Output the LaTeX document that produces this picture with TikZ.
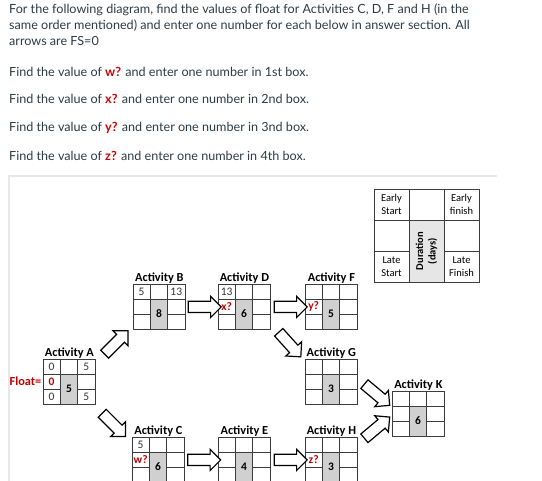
\documentclass[tikz,border=0pt]{standalone}
\usepackage{fontspec}
\setmainfont{Carlito}
\newfontfamily\latofont{Lato}
\usetikzlibrary{calc, shapes.arrows, positioning}
\definecolor{AnswerRed}{RGB}{204, 0, 0}
\definecolor{FloatRed}{RGB}{192, 0, 0}
\definecolor{DurGray}{RGB}{208, 208, 208}
\definecolor{KeyGray}{RGB}{230, 230, 230}
\definecolor{GridLine}{RGB}{60, 60, 60}
\definecolor{FrameGray}{RGB}{232, 232, 232}
\definecolor{TextGray}{RGB}{45, 59, 69}

% cell size of an activity grid
\newcommand{\cw}{17.3}
\newcommand{\ch}{15}

% empty grid: name, top left corner, fill of the duration cell
\newcommand{\cellgrid}[3]{%
  \begin{scope}[shift={(#2)}]
    \fill[#3] (\cw,\ch) rectangle (2*\cw,3*\ch);
    \draw[gridline] (0,\ch) -- (3*\cw,\ch)
      (0,2*\ch) -- (\cw,2*\ch) (2*\cw,2*\ch) -- (3*\cw,2*\ch)
      (\cw,0) -- (\cw,3*\ch) (2*\cw,0) -- (2*\cw,3*\ch);
  \end{scope}
  \node[gridbox, minimum width={3*\cw*1pt}, minimum height={3*\ch*1pt}, anchor=north west] (#1) at (#2) {};
}

% activity: name, corner, title, ES, EF, float, LS, LF, duration
\newcommand{\activity}[9]{%
  \cellgrid{#1}{#2}{DurGray}
  \node[acttitle, above=0pt of #1] (#1-t) {#3};
  \node[cellnum] (#1-es) at ($(#1.north west)+(0.5*\cw,0.5*\ch)$) {#4};
  \node[cellnum] (#1-ef) at ($(#1.north west)+(2.5*\cw,0.5*\ch)$) {#5};
  \node[floatnum] (#1-fl) at ($(#1.north west)+(0.5*\cw,1.5*\ch)$) {#6};
  \node[cellnum] (#1-ls) at ($(#1.north west)+(0.5*\cw,2.5*\ch)$) {#7};
  \node[cellnum] (#1-lf) at ($(#1.north west)+(2.5*\cw,2.5*\ch)$) {#8};
  \node[durnum] (#1-du) at ($(#1.north west)+(1.5*\cw,2*\ch)$) {#9};
}

\begin{document}
\begin{tikzpicture}[x=1pt, y=-1pt,
    qtext/.style={font=\latofont\fontsize{12.6}{16}\selectfont, text=TextGray, inner sep=0pt, align=left},
    gridline/.style={draw=GridLine, line width=0.9pt},
    gridbox/.style={draw=GridLine, line width=0.9pt, inner sep=0pt},
    acttitle/.style={font=\fontsize{12.3}{13}\selectfont\bfseries, inner sep=0.5pt},
    cellnum/.style={font=\fontsize{11.5}{12}\selectfont, text=black!80, inner sep=0pt},
    floatnum/.style={cellnum, font=\fontsize{11.5}{12}\selectfont\bfseries, text=FloatRed},
    durnum/.style={cellnum, font=\fontsize{11.5}{12}\selectfont\bfseries, text=black},
    keytext/.style={font=\fontsize{10.5}{12.5}\selectfont, align=center, inner sep=0pt},
    blockarrow/.style={single arrow, draw=black, fill=white, line width=1.2pt,
      minimum height=33pt, inner xsep=0pt, inner ysep=5pt, single arrow head extend=5pt}]
  \useasboundingbox (0,0) rectangle (542,481);

  % question text
  \node[qtext, anchor=north west] (q0) at (9,4)
    {For the following diagram, find the values of float for Activities C, D, F and H (in the\\
     same order mentioned) and enter one number for each below in answer section. All\\
     arrows are FS=0};
  \node[qtext, anchor=west] (q1) at (9,72) {Find the value of \textcolor{AnswerRed}{\bfseries w?} and enter one number in 1st box.};
  \node[qtext, anchor=west] (q2) at (9,99) {Find the value of \textcolor{AnswerRed}{\bfseries x?} and enter one number in 2nd box.};
  \node[qtext, anchor=west] (q3) at (9,128) {Find the value of \textcolor{AnswerRed}{\bfseries y?} and enter one number in 3nd box.};
  \node[qtext, anchor=west] (q4) at (9,156) {Find the value of \textcolor{AnswerRed}{\bfseries z?} and enter one number in 4th box.};

  % frame of the diagram
  \draw[FrameGray, line width=1.2pt] (9,481) -- (9,176) -- (497,176);

  % key
  \begin{scope}
    \renewcommand{\cw}{35}\renewcommand{\ch}{31}
    \cellgrid{key}{374,189}{KeyGray}
    \node[keytext] (key-es) at ($(key.north west)+(0.5*\cw,0.5*\ch)$) {Early\\Start};
    \node[keytext] (key-ef) at ($(key.north west)+(2.5*\cw,0.5*\ch)$) {Early\\finish};
    \node[keytext] (key-ls) at ($(key.north west)+(0.5*\cw,2.5*\ch)$) {Late\\Start};
    \node[keytext] (key-lf) at ($(key.north west)+(2.5*\cw,2.5*\ch)$) {Late\\Finish};
    \node[keytext, font=\fontsize{10.5}{12.5}\selectfont\bfseries, rotate=90] (key-du)
      at ($(key.north west)+(1.5*\cw,2*\ch)$) {Duration\\(days)};
  \end{scope}

  % activities
  \activity{A}{43,359}{Activity A}{0}{5}{0}{0}{5}{5}
  \activity{B}{133,284}{Activity B}{5}{13}{}{}{}{8}
  \activity{D}{218,284}{Activity D}{13}{}{x?}{}{}{6}
  \activity{F}{305,284}{Activity F}{}{}{y?}{}{}{5}
  \activity{G}{305,359}{Activity G}{}{}{}{}{}{3}
  \activity{K}{392,391}{Activity K}{}{}{}{}{}{6}
  \activity{C}{132,437}{Activity C}{5}{}{w?}{}{}{6}
  \activity{E}{218,437}{Activity E}{}{}{}{}{}{4}
  \activity{H}{305,437}{Activity H}{}{}{z?}{}{}{3}
  \node[acttitle, text=FloatRed, anchor=east] (fl) at ($(A.north west)+(-1,22.5)$) {Float=};

  % block arrows
  \node[blockarrow, rotate=45] (ab) at ($(A.north east)!0.5!(B.south west)$) {};
  \node[blockarrow, rotate=-45] (ac) at ($(A.south east)!0.5!(C.north west)+(-2,2)$) {};
  \node[blockarrow] (bd) at ($(B.east)!0.5!(D.west)$) {};
  \node[blockarrow] (df) at ($(D.east)!0.5!(F.west)$) {};
  \node[blockarrow, rotate=-48] (dg) at ($(D.south east)!0.5!(G.north west)+(0,-2)$) {};
  \node[blockarrow] (ce) at ($(C.east)!0.5!(E.west)$) {};
  \node[blockarrow] (eh) at ($(E.east)!0.5!(H.west)$) {};
  \node[blockarrow, rotate=-40] (gk) at ($(G.east)!0.5!(K.west)+(0,-5)$) {};
  \node[blockarrow, rotate=40] (hk) at ($(H.north east)!0.5!(K.west)+(0,4)$) {};
\end{tikzpicture}
\end{document}
